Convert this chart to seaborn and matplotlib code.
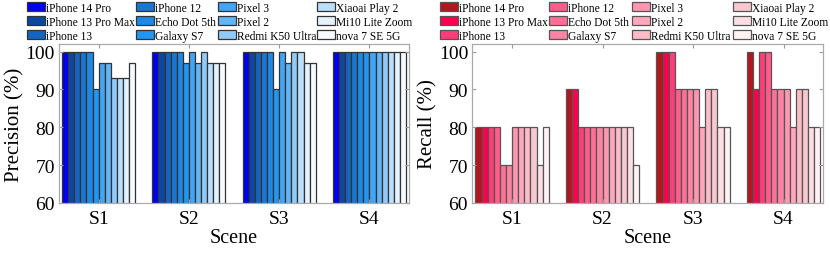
import numpy as np
import pandas as pd
import matplotlib
matplotlib.use("Agg")
import matplotlib.pyplot as plt
import seaborn as sns
from matplotlib.patches import Patch

scenes = ["S1", "S2", "S3", "S4"]
devices = ["iPhone 14 Pro", "iPhone 13 Pro Max", "iPhone 13", "iPhone 12",
           "Echo Dot 5th", "Galaxy S7", "Pixel 3", "Pixel 2", "Redmi K50 Ultra",
           "Xiaoai Play 2", "Mi10 Lite Zoom", "nova 7 SE 5G"]

precision_s1 = [100, 100, 100, 100, 100, 90, 97, 97, 93, 93, 93, 97]
precision_s2 = [100, 100, 100, 100, 100, 97, 100, 97, 100, 97, 97, 97]
precision_s3 = [100, 100, 100, 100, 100, 90, 100, 97, 100, 100, 97, 97]
precision_s4 = [100, 100, 100, 100, 100, 100, 100, 100, 100, 100, 100, 100]

recall_s1 = [80, 80, 80, 80, 70, 70, 80, 80, 80, 80, 70, 80]
recall_s2 = [90, 90, 80, 80, 80, 80, 80, 80, 80, 80, 80, 70]
recall_s3 = [100, 100, 100, 90, 90, 90, 90, 80, 90, 90, 80, 80]
recall_s4 = [100, 90, 100, 100, 90, 90, 90, 80, 90, 90, 80, 80]

blues = ["#0000F5", "#0D47A1", "#1565C0", "#1976D2", "#1E88E5", "#2196F3",
         "#42A5F5", "#64B5F6", "#90CAF9", "#BBDEFB", "#E3F2FD", "#F7FBFF"]
pinks = ["#B5161E", "#FF0050", "#FF3D78", "#FF5C8A", "#FF6F96", "#FF83A3",
         "#FF96B0", "#FFA8BC", "#FDBAC7", "#F8C8D0", "#FBDFE4", "#FFF2F4"]

plt.rcParams["font.family"] = ["Liberation Serif", "DejaVu Serif"]


def make_df(rows):
    recs = []
    for s, vals in zip(scenes, rows):
        for d, v in zip(devices, vals):
            recs.append({"Scene": s, "Device": d, "Value": v})
    return pd.DataFrame(recs)


W, H = 830, 255
fig = plt.figure(figsize=(W / 100, H / 100), dpi=100)
ax1 = fig.add_axes([0.071, 0.20, 0.422, 0.6235])
ax2 = fig.add_axes([0.569, 0.20, 0.423, 0.6235])

panels = [
    (ax1, make_df([precision_s1, precision_s2, precision_s3, precision_s4]), blues, "#333333",
     "Precision (%)", [27, 136, 218, 317]),
    (ax2, make_df([recall_s1, recall_s2, recall_s3, recall_s4]), pinks, "#555555",
     "Recall (%)", [440, 549, 632, 733]),
]

for ax, df, pal, ec, ylab, colx in panels:
    sns.barplot(data=df, x="Scene", y="Value", hue="Device", hue_order=devices,
                palette=pal, width=0.81, gap=0, edgecolor=ec, linewidth=0.9,
                legend=False, ax=ax, errorbar=None, saturation=1)
    ax.set_ylim(60, 102)
    ax.set_xlim(-0.44, 3.44)
    ax.set_yticks([60, 70, 80, 90, 100])
    ax.set_xlabel("Scene", fontsize=14.5, labelpad=1)
    ax.set_ylabel(ylab, fontsize=15, labelpad=1)
    ax.tick_params(axis="both", direction="in", labelsize=14, color="#999999",
                   length=3, top=True, right=True, width=0.8)
    ax.tick_params(axis="x", pad=5)
    ax.tick_params(axis="y", pad=3)
    for sp in ax.spines.values():
        sp.set_color("#AAAAAA")
        sp.set_linewidth(0.9)
    ax.set_facecolor("white")
    handles = [Patch(facecolor=c, edgecolor=ec, linewidth=0.9) for c in pal]
    for ci in range(4):
        fig.legend(handles[ci * 3:(ci + 1) * 3], devices[ci * 3:(ci + 1) * 3],
                   ncol=1, frameon=False, fontsize=8.3,
                   loc="upper left", bbox_to_anchor=(colx[ci] / W, 1 - 2.5 / H),
                   handlelength=1.55, handleheight=0.9, handletextpad=0.12,
                   labelspacing=0.18, borderaxespad=0, borderpad=0)

fig.savefig("out.png", dpi=100)
